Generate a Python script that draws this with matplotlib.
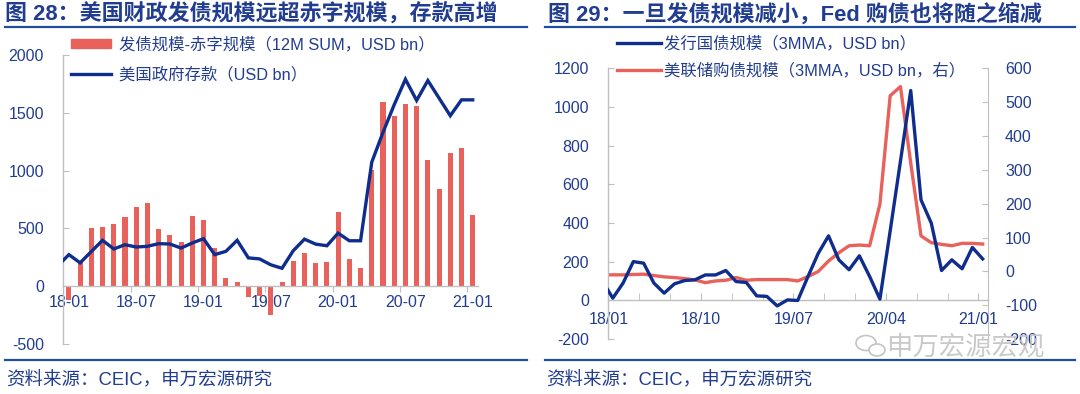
#!/usr/bin/env python3

"""
Two side-by-side panels: US net issuance vs deficit with TGA deposits,
and Treasury issuance vs Fed purchases (3MMA).
"""

#imports
import numpy as np
import matplotlib
matplotlib.use('Agg')
import matplotlib.pyplot as plt
from matplotlib.patches import Patch, Ellipse
from matplotlib.lines import Line2D

#fonts
plt.rcParams['font.family'] = ['Liberation Sans', 'Noto Sans CJK SC']
plt.rcParams['axes.unicode_minus'] = False

#colours
NAVY = '#0f2d8c'
CORAL = '#e8615b'
TEXT = '#213d8f'
GREY = '#bfbfbf'

#data - left panel (monthly 18-01 .. 21-01)
left_ticks = ['18-01', '18-07', '19-01', '19-07', '20-01', '20-07', '21-01']
issue_minus_deficit = [-120, 220, 502, 514, 534, 600, 683, 723, 494, 445, 379, 608,
                       574, 327, 69, 37, -95, -86, -247, 35, 221, 287, 201, 207,
                       643, 235, 161, 1004, 1590, 1469, 1572, 1555, 1093, 844, 1151, 1197,
                       620]
#deposits start one month earlier (17-12), clipped by the axis
gov_deposits = [175,
                273, 202, 300, 397, 322, 359, 339, 345, 368, 365, 330, 374,
                411, 273, 302, 397, 245, 236, 185, 155, 307, 407, 364, 350,
                459, 393, 393, 1073, 1330, 1570, 1790, 1607, 1779, 1627, 1475, 1612,
                1612]

#data - right panel (monthly 17-12 .. 21-01, first point clipped)
right_ticks = ['18/01', '18/10', '19/07', '20/04', '21/01']
treasury_issuance = [100,
                     12, 90, 201, 193, 90, 38, 86, 103, 107, 132, 132, 155,
                     98, 93, 24, 21, -28, 3, 0, 124, 244, 334, 210, 159,
                     231, 124, 7, 360, 720, 1085, 520, 400, 155, 210, 164, 274,
                     215]
fed_purchases = [-10,
                 -10, -10, -9, -8, -12, -16, -18, -21, -25, -33, -28, -26,
                 -18, -26, -24, -24, -24, -24, -28, -15, 0, 31, 55, 76,
                 78, 76, 199, 519, 546, 320, 105, 85, 80, 76, 83, 83,
                 81]

TICK_FS = 11.5
LEG_FS = 11.8

W, H = 1080, 394


def fx(px):
    return px / W


def fy(py):
    return 1 - py / H


def style_axis(ax):
    for s in ['top', 'right']:
        ax.spines[s].set_visible(False)
    for s in ['left', 'bottom']:
        ax.spines[s].set_color(GREY)
        ax.spines[s].set_linewidth(1.0)
    ax.tick_params(axis='y', colors=GREY, labelcolor=TEXT, labelsize=TICK_FS,
                   direction='in', length=4, pad=14)
    ax.set_facecolor('none')


def left_panel(fig):
    ax = fig.add_axes([0.0586, 0.1269, 0.3843, 0.7335])
    style_axis(ax)

    x_bar = np.arange(len(issue_minus_deficit))
    x_line = np.arange(-1, len(gov_deposits) - 1)

    ax.bar(x_bar, issue_minus_deficit, width=0.45, color=CORAL, zorder=2)
    ax.plot(x_line, gov_deposits, color=NAVY, lw=2.4, zorder=3,
            solid_joinstyle='miter')

    ax.set_xlim(-0.5, 36.5)
    ax.set_ylim(-500, 2000)
    ax.set_yticks(np.arange(-500, 2001, 500))

    ax.spines['bottom'].set_position(('data', 0))
    #tick marks sit between categories, labels on the category
    ax.set_xticks(np.arange(5.5, 36.6, 6))
    ax.set_xticklabels([])
    ax.tick_params(axis='x', which='major', colors=GREY, direction='out', length=4)
    ax.set_xticks(np.arange(0, 37, 6), minor=True)
    ax.set_xticklabels(left_ticks, minor=True)
    ax.tick_params(axis='x', which='minor', length=0, labelcolor=TEXT,
                   labelsize=TICK_FS, pad=6)

    handles = [Patch(color=CORAL), Line2D([], [], color=NAVY, lw=2.4)]
    labels = ['发债规模-赤字规模（12M SUM，USD bn）', '美国政府存款（USD bn）']
    fig.legend(handles, labels, loc='upper left', bbox_to_anchor=(0.066, fy(37)),
               frameon=False, fontsize=LEG_FS, labelcolor=TEXT, handlelength=2.4,
               handleheight=0.5, handletextpad=0.5, labelspacing=0.85,
               borderpad=0, borderaxespad=0)
    return ax


def right_panel(fig):
    ax = fig.add_axes([0.5634, 0.1391, 0.3517, 0.6876])
    style_axis(ax)
    ax2 = ax.twinx()
    ax2.set_facecolor('none')
    for s in ['top', 'left', 'bottom']:
        ax2.spines[s].set_visible(False)
    ax2.spines['right'].set_color(GREY)
    ax2.tick_params(axis='y', colors=GREY, labelcolor=TEXT, labelsize=TICK_FS,
                    direction='in', length=4, pad=12)

    #monthly points sit a little after the month tick
    x = np.arange(-1, len(treasury_issuance) - 1) + 0.42

    ax2.plot(x, fed_purchases, color=CORAL, lw=2.4, zorder=2)
    ax.plot(x, treasury_issuance, color=NAVY, lw=2.4, zorder=3)
    ax.set_zorder(ax2.get_zorder() + 1)

    ax.set_xlim(0, 36.97)
    ax.set_ylim(-200, 1200)
    ax.set_yticks(np.arange(-200, 1201, 200))
    ax2.set_ylim(-200, 600)
    ax2.set_yticks(np.arange(-200, 601, 100))

    ax.spines['bottom'].set_position(('data', 0))
    ax.set_xticks(np.arange(0, 37, 9))
    ax.set_xticklabels(right_ticks)
    ax.set_xticks(np.arange(0, 37, 3), minor=True)
    ax.tick_params(axis='x', which='both', colors=GREY, direction='in', length=5,
                   labelcolor=TEXT, labelsize=TICK_FS, pad=8)

    handles = [Line2D([], [], color=NAVY, lw=2.4), Line2D([], [], color=CORAL, lw=2.4)]
    labels = ['发行国债规模（3MMA，USD bn）', '美联储购债规模（3MMA，USD bn，右）']
    fig.legend(handles, labels, loc='upper left', bbox_to_anchor=(0.571, fy(36)),
               frameon=False, fontsize=LEG_FS, labelcolor=TEXT, handlelength=2.7,
               handletextpad=0.2, labelspacing=0.7, borderpad=0, borderaxespad=0)
    return ax


def frame_text(fig):
    #titles
    fig.text(fx(5), fy(14), '图 28：美国财政发债规模远超赤字规模，存款高增',
             fontsize=15.8, fontweight='bold', color=TEXT, va='center')
    fig.text(fx(548), fy(14), '图 29：一旦发债规模减小，Fed 购债也将随之缩减',
             fontsize=15.8, fontweight='bold', color=TEXT, va='center')

    #rules under titles and above sources
    for x0, x1 in [(5, 527), (545, 1075)]:
        for y in [27, 360]:
            fig.add_artist(Line2D([fx(x0), fx(x1)], [fy(y), fy(y)],
                                  color='#1f4e9c', lw=1.6))

    #sources
    for x0 in [6, 546]:
        fig.text(fx(x0), fy(381), '资料来源：CEIC，申万宏源研究',
                 fontsize=13.3, color=TEXT, va='center')

    #watermark: chat-bubble icon plus account name
    wm = '#c4c4c4'
    fig.add_artist(Ellipse((fx(866), fy(343)), fx(20), 15 / H, fill=False,
                           edgecolor=wm, lw=1.2))
    fig.add_artist(Ellipse((fx(877), fy(350)), fx(16), 12 / H, facecolor='white',
                           edgecolor=wm, lw=1.2))
    fig.text(fx(886), fy(347), '申万宏源宏观', fontsize=19, color=wm,
             va='center', alpha=0.9)


def main():
    fig = plt.figure(figsize=(10.8, 3.94), dpi=100)
    fig.patch.set_facecolor('white')
    left_panel(fig)
    right_panel(fig)
    frame_text(fig)
    fig.savefig('out.png', dpi=100)


if __name__ == '__main__':
    main()
